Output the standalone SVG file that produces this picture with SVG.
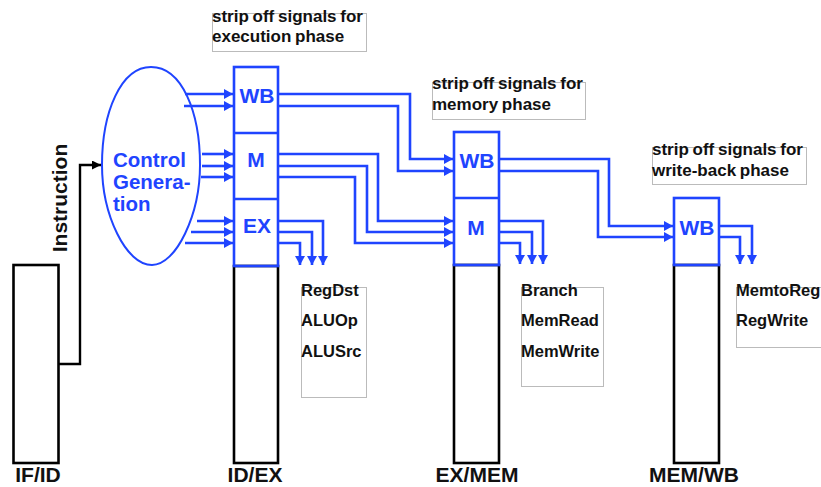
<svg xmlns="http://www.w3.org/2000/svg" width="821" height="487" viewBox="0 0 821 487">
<style>
  .reg{fill:none;stroke:#000;stroke-width:2.6}
  .breg{fill:none;stroke:#1f44ff;stroke-width:2.6}
  .bl{fill:none;stroke:#1f44ff;stroke-width:2.6}
  .blk{fill:none;stroke:#000;stroke-width:2.4}
  .note{fill:none;stroke:#bbb;stroke-width:1}
  .t{font-family:"Liberation Sans",Arial,sans-serif;font-weight:bold}
  .big{font-size:21px}
  .bt{fill:#1f44ff;font-size:21px;text-anchor:middle}
  .st{font-size:17px;fill:#111;word-spacing:-1px}
  .sig{font-size:16.5px;fill:#111}
  .lab{font-size:21px;fill:#111;text-anchor:middle}
</style>
<defs>
  <marker id="ab" markerUnits="userSpaceOnUse" markerWidth="10" markerHeight="10" refX="9" refY="5" orient="auto">
    <path d="M0,0 L9,5 L0,10 Z" fill="#1f44ff"/>
  </marker>
  <marker id="ak" markerUnits="userSpaceOnUse" markerWidth="10" markerHeight="10" refX="9" refY="4.5" orient="auto">
    <path d="M0,0 L9,4.5 L0,9 Z" fill="#000"/>
  </marker>
</defs>
<rect width="821" height="487" fill="#fff"/>

<g id="connectors">
  <!-- instruction -->
  <path class="blk" d="M58,364 H80 V165 H101" marker-end="url(#ak)"/>
  <!-- control to ID/EX -->
  <path class="bl" d="M185,94 H233" marker-end="url(#ab)"/>
  <path class="bl" d="M184,106 H233" marker-end="url(#ab)"/>
  <path class="bl" d="M202,154 H233" marker-end="url(#ab)"/>
  <path class="bl" d="M202,166 H233" marker-end="url(#ab)"/>
  <path class="bl" d="M201,177 H233" marker-end="url(#ab)"/>
  <path class="bl" d="M197,221 H233" marker-end="url(#ab)"/>
  <path class="bl" d="M191,232 H233" marker-end="url(#ab)"/>
  <path class="bl" d="M185,243 H233" marker-end="url(#ab)"/>
  <!-- ID/EX WB to EX/MEM WB -->
  <path class="bl" d="M278,94 H410 V159 H453" marker-end="url(#ab)"/>
  <path class="bl" d="M278,106 H398 V171 H453" marker-end="url(#ab)"/>
  <!-- ID/EX M to EX/MEM M -->
  <path class="bl" d="M278,154 H378 V221 H453" marker-end="url(#ab)"/>
  <path class="bl" d="M278,166 H367 V232 H453" marker-end="url(#ab)"/>
  <path class="bl" d="M278,177 H355 V243 H453" marker-end="url(#ab)"/>
  <!-- ID/EX EX outputs -->
  <path class="bl" d="M278,221 H323 V265" marker-end="url(#ab)"/>
  <path class="bl" d="M278,232 H312 V265" marker-end="url(#ab)"/>
  <path class="bl" d="M278,243 H300 V265" marker-end="url(#ab)"/>
  <!-- EX/MEM WB to MEM/WB -->
  <path class="bl" d="M499,159 H609 V226 H673" marker-end="url(#ab)"/>
  <path class="bl" d="M499,171 H598 V237 H673" marker-end="url(#ab)"/>
  <!-- EX/MEM M outputs -->
  <path class="bl" d="M499,221 H543 V264" marker-end="url(#ab)"/>
  <path class="bl" d="M499,232 H532 V264" marker-end="url(#ab)"/>
  <path class="bl" d="M499,243 H520 V264" marker-end="url(#ab)"/>
  <!-- MEM/WB WB outputs -->
  <path class="bl" d="M719,226 H752 V264" marker-end="url(#ab)"/>
  <path class="bl" d="M719,237 H740 V264" marker-end="url(#ab)"/>
</g>

<g id="ifid">
  <rect class="reg" x="13.5" y="265" width="45" height="198"/>
  <text class="t lab" x="38" y="482">IF/ID</text>
</g>

<g id="control">
  <path d="M151,67 C182,67 200,112 200,165 C200,215 176,265 152,265 C126,265 102,215 102,165 C102,112 121,67 151,67 Z" fill="none" stroke="#1f44ff" stroke-width="2"/>
  <text class="t" font-size="20.5" fill="#1f44ff"><tspan x="113" y="167">Control</tspan><tspan x="113" y="189">Genera-</tspan><tspan x="113" y="211">tion</tspan></text>
</g>

<g id="instruction-label">
  <text class="t big" fill="#111" text-anchor="middle" transform="translate(67,198) rotate(-90)">Instruction</text>
</g>

<g id="idex">
  <rect class="reg" x="234" y="266" width="44" height="197"/>
  <rect class="breg" x="234" y="67" width="44" height="199"/>
  <line class="breg" x1="234" y1="133" x2="278" y2="133"/>
  <line class="breg" x1="234" y1="199" x2="278" y2="199"/>
  <text class="t bt" x="257" y="103">WB</text>
  <text class="t bt" x="256" y="167">M</text>
  <text class="t bt" x="257" y="233">EX</text>
  <text class="t lab" x="255" y="482">ID/EX</text>
</g>

<g id="exmem">
  <rect class="reg" x="454" y="265" width="45" height="198"/>
  <rect class="breg" x="454" y="132" width="45" height="133"/>
  <line class="breg" x1="454" y1="198" x2="499" y2="198"/>
  <text class="t bt" x="477" y="168">WB</text>
  <text class="t bt" x="476" y="235">M</text>
  <text class="t lab" x="477" y="482">EX/MEM</text>
</g>

<g id="memwb">
  <rect class="reg" x="674" y="265" width="45" height="198"/>
  <rect class="breg" x="674" y="198" width="45" height="67"/>
  <text class="t bt" x="697" y="235">WB</text>
  <text class="t lab" x="694" y="482">MEM/WB</text>
</g>

<g id="note-ex">
  <rect class="note" x="212.5" y="13.5" width="154" height="38"/>
  <text class="t st" x="212" y="22">strip off signals for</text>
  <text class="t st" x="212" y="42">execution phase</text>
</g>
<g id="note-mem">
  <rect class="note" x="432.5" y="82.5" width="153" height="37"/>
  <text class="t st" x="432" y="89">strip off signals for</text>
  <text class="t st" x="432" y="110">memory phase</text>
</g>
<g id="note-wb">
  <rect class="note" x="652.5" y="147.5" width="154" height="37"/>
  <text class="t st" x="652" y="155">strip off signals for</text>
  <text class="t st" x="652" y="176">write-back phase</text>
</g>

<g id="signals-ex">
  <rect class="note" x="301.5" y="287.5" width="65" height="110"/>
  <text class="t sig" x="301" y="296">RegDst</text>
  <text class="t sig" x="301" y="326">ALUOp</text>
  <text class="t sig" x="301" y="357">ALUSrc</text>
</g>
<g id="signals-mem">
  <rect class="note" x="521.5" y="287.5" width="82" height="99"/>
  <text class="t sig" x="521" y="296">Branch</text>
  <text class="t sig" x="521" y="326">MemRead</text>
  <text class="t sig" x="521" y="357">MemWrite</text>
</g>
<g id="signals-wb">
  <rect class="note" x="736.5" y="287.5" width="90" height="60"/>
  <text class="t sig" x="736" y="296">MemtoReg</text>
  <text class="t sig" x="736" y="326">RegWrite</text>
</g>
</svg>
